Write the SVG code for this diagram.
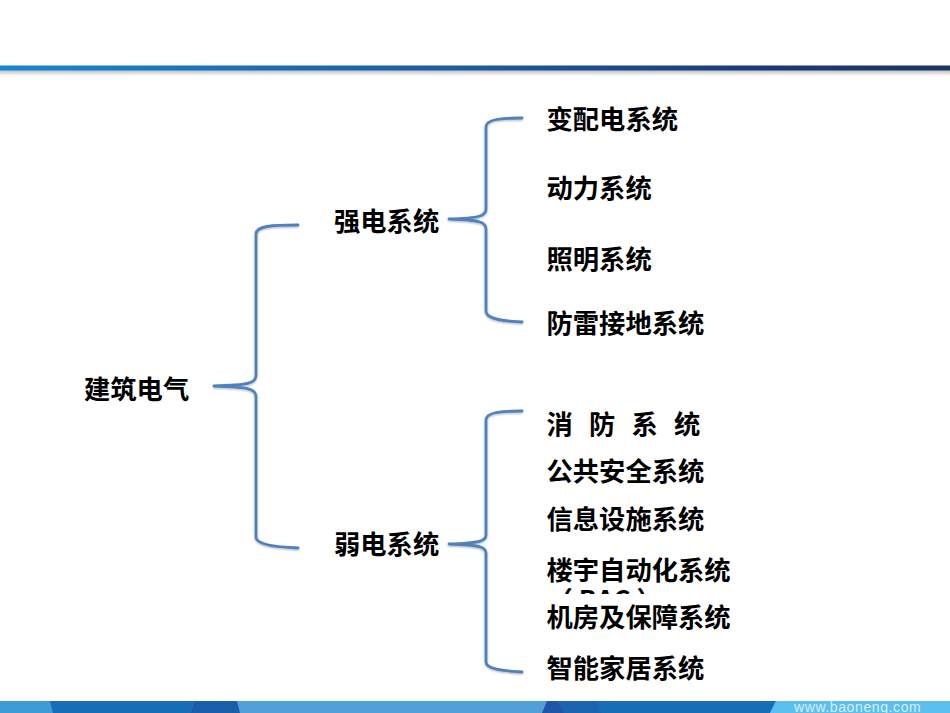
<svg xmlns="http://www.w3.org/2000/svg" width="950" height="713" viewBox="0 0 950 713">
<style>
text{font-family:"Noto Sans CJK SC","Noto Sans CJK JP",sans-serif;font-weight:700;font-size:26.3px;fill:#000}
.b{fill:none;stroke:#4f81bd;stroke-width:2.8;stroke-linecap:round;stroke-linejoin:round}
</style>
<defs>
<linearGradient id="g" x1="0" x2="1" y1="0" y2="0"><stop offset="0" stop-color="#1487d4"/><stop offset=".5" stop-color="#1d5aa0"/><stop offset=".8" stop-color="#1b3a78"/><stop offset="1" stop-color="#1c3560"/></linearGradient>
<linearGradient id="sh" x1="0" x2="0" y1="0" y2="1"><stop offset="0" stop-color="#bbb"/><stop offset="1" stop-color="#fff"/></linearGradient>
<clipPath id="c"><rect x="540" y="586" width="200" height="8"/></clipPath>
<filter id="d" x="-20%" y="-5%" width="140%" height="110%"><feDropShadow dx="0" dy="1" stdDeviation="0.8" flood-color="#000" flood-opacity=".3"/></filter>
</defs>
<rect x="0" y="70" width="950" height="6" fill="url(#sh)"/>
<rect x="0" y="65.5" width="950" height="5" fill="url(#g)"/>
<g id="footer">
<rect x="0" y="701" width="950" height="12" fill="#51a0d9"/>
<polygon points="0,701 50,701 53,713 0,713" fill="#3f9bd6"/>
<polygon points="50,701 194,701 190,713 53,713" fill="#176db6"/>
<polygon points="194,701 237,701 240,713 190,713" fill="#1a5eaa"/>
<polygon points="558,701 776,701 770,713 565,713" fill="#176db6"/>
<polygon points="547,701 558,701 565,713 542,713" fill="#1f55a5"/>
<polygon points="558,701 597,701 601,713 565,713" fill="#1a64b0"/>
<polygon points="776,701 950,701 950,713 770,713" fill="#5cc0ee"/>
<text x="794" y="711.5" style="font-family:'Liberation Sans',sans-serif;font-weight:400;font-size:14px;fill:#d8eefa;letter-spacing:.6px">www.baoneng.com</text>
</g>
<g id="connectors" filter="url(#d)">
<path class="b" d="M298 225C272 225 256 226 256 234V375C256 383 250 385 214 386C250 387 256 389 256 397V537C256 544 272 547 298 548"/>
<path class="b" d="M522 118C502 118 486 119 486 127V209C486 216 480 218 449 219C480 220 486 222 486 229V311C486 319 502 321 522 322"/>
<path class="b" d="M522 411C502 411 486 412 486 420V535C486 541 480 543 449 544C480 545 486 547 486 553V662C486 669 502 671 522 672"/>
</g>
<g id="root"><text x="84" y="399">建筑电气</text></g>
<g id="strong"><text x="334" y="231">强电系统</text></g>
<g id="weak"><text x="334" y="554">弱电系统</text></g>
<g id="n1"><text x="546.5" y="129">变配电系统</text></g>
<g id="n2"><text x="546.5" y="198">动力系统</text></g>
<g id="n3"><text x="546.5" y="269">照明系统</text></g>
<g id="n4"><text x="546.5" y="332.5">防雷接地系统</text></g>
<g id="n5"><text x="546.5 589 631.5 674" y="434">消防系统</text></g>
<g id="n6"><text x="546.5" y="480.5">公共安全系统</text></g>
<g id="n7"><text x="546.5" y="528.5">信息设施系统</text></g>
<g id="n8"><text x="546.5" y="579.5">楼宇自动化系统</text><text x="546.5" y="610" clip-path="url(#c)">（ BAC ）</text></g>
<g id="n9"><text x="546.5" y="626.5">机房及保障系统</text></g>
<g id="n10"><text x="546.5" y="678">智能家居系统</text></g>
</svg>
